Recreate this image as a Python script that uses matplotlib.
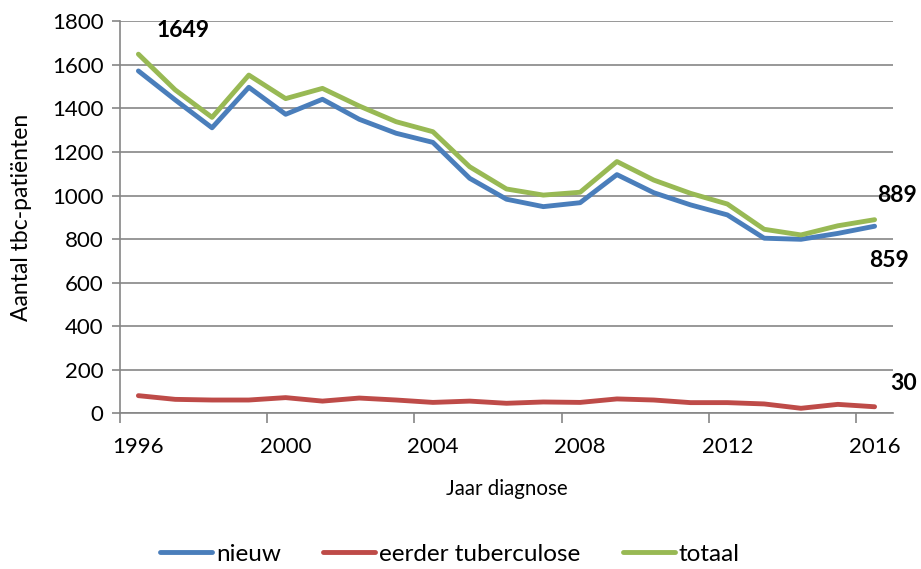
import matplotlib
matplotlib.use("Agg")
import matplotlib.pyplot as plt
import numpy as np

plt.rcParams['font.family'] = ['Lato', 'DejaVu Sans']

# Jaar diagnose
years = list(range(1996, 2017))
nieuw = [1572, 1439, 1311, 1497, 1373, 1442, 1350, 1286, 1244, 1079, 983,
         949, 967, 1096, 1013, 957, 911, 804, 799, 826, 859]
eerder = [81, 64, 61, 61, 72, 56, 70, 61, 50, 56, 46,
          52, 50, 66, 61, 49, 49, 43, 23, 41, 30]
totaal = [1649, 1485, 1359, 1553, 1445, 1492, 1411, 1339, 1293, 1132, 1030,
          1002, 1015, 1156, 1071, 1010, 961, 845, 819, 861, 889]

c_nieuw = '#4A7EBB'
c_eerder = '#BE4B48'
c_totaal = '#98B954'
grid_c = '#868686'

fig = plt.figure(figsize=(9.21, 5.69), dpi=100)
ax = fig.add_axes([120 / 921, 1 - 413.3 / 569, 773 / 921, 392 / 569])

x = np.arange(len(years)) + 0.5
lw = 3.5
ax.plot(x, nieuw, color=c_nieuw, lw=lw, solid_capstyle='round', label='nieuw', zorder=3)
ax.plot(x, eerder, color=c_eerder, lw=lw, solid_capstyle='round', label='eerder tuberculose', zorder=3)
ax.plot(x, totaal, color=c_totaal, lw=lw, solid_capstyle='round', label='totaal', zorder=3)

ax.set_xlim(0, len(years))
ax.set_ylim(0, 1800)
ax.set_yticks(np.arange(0, 1801, 200))
ax.yaxis.grid(True, color=grid_c, lw=1.2)
ax.set_axisbelow(True)

# category boundaries carry the tick marks, labels sit under the points
ax.set_xticks(np.arange(0, len(years) + 1, 4))
ax.set_xticklabels([])
ax.set_xticks(x[::4], minor=True)
ax.set_xticklabels([str(y) for y in years[::4]], minor=True)
ax.tick_params(axis='x', which='major', length=7, width=1.2, color=grid_c)
ax.tick_params(axis='x', which='minor', length=0, pad=17, labelsize=16)
ax.tick_params(axis='y', length=6, width=1.2, color=grid_c, labelsize=16, pad=6)

for s in ['top', 'right']:
    ax.spines[s].set_visible(False)
for s in ['left', 'bottom']:
    ax.spines[s].set_color(grid_c)
    ax.spines[s].set_linewidth(1.2)

ax.set_ylabel('Aantal tbc-patiënten', fontsize=16.5, labelpad=14)
ax.set_xlabel('Jaar diagnose', fontsize=14.8, labelpad=16)

lbl = dict(ha='center', va='center', fontsize=16.5, fontweight='bold',
           textcoords='offset points')
ax.annotate(str(totaal[0]), (x[0], totaal[0]), xytext=(32, 16.7), **lbl)
ax.annotate(str(totaal[-1]), (x[-1], totaal[-1]), xytext=(16, 17.6), **lbl)
ax.annotate(str(nieuw[-1]), (x[-1], nieuw[-1]), xytext=(10.5, -24.7), **lbl)
ax.annotate(str(eerder[-1]), (x[-1], eerder[-1]), xytext=(21, 16.4), **lbl)

fig.legend(loc='center', bbox_to_anchor=(450 / 921, 1 - 554 / 569), ncol=3, frameon=False,
           fontsize=17.5, handlelength=2.14, handletextpad=0.15, columnspacing=1.75)

fig.savefig('out.png', dpi=100)
